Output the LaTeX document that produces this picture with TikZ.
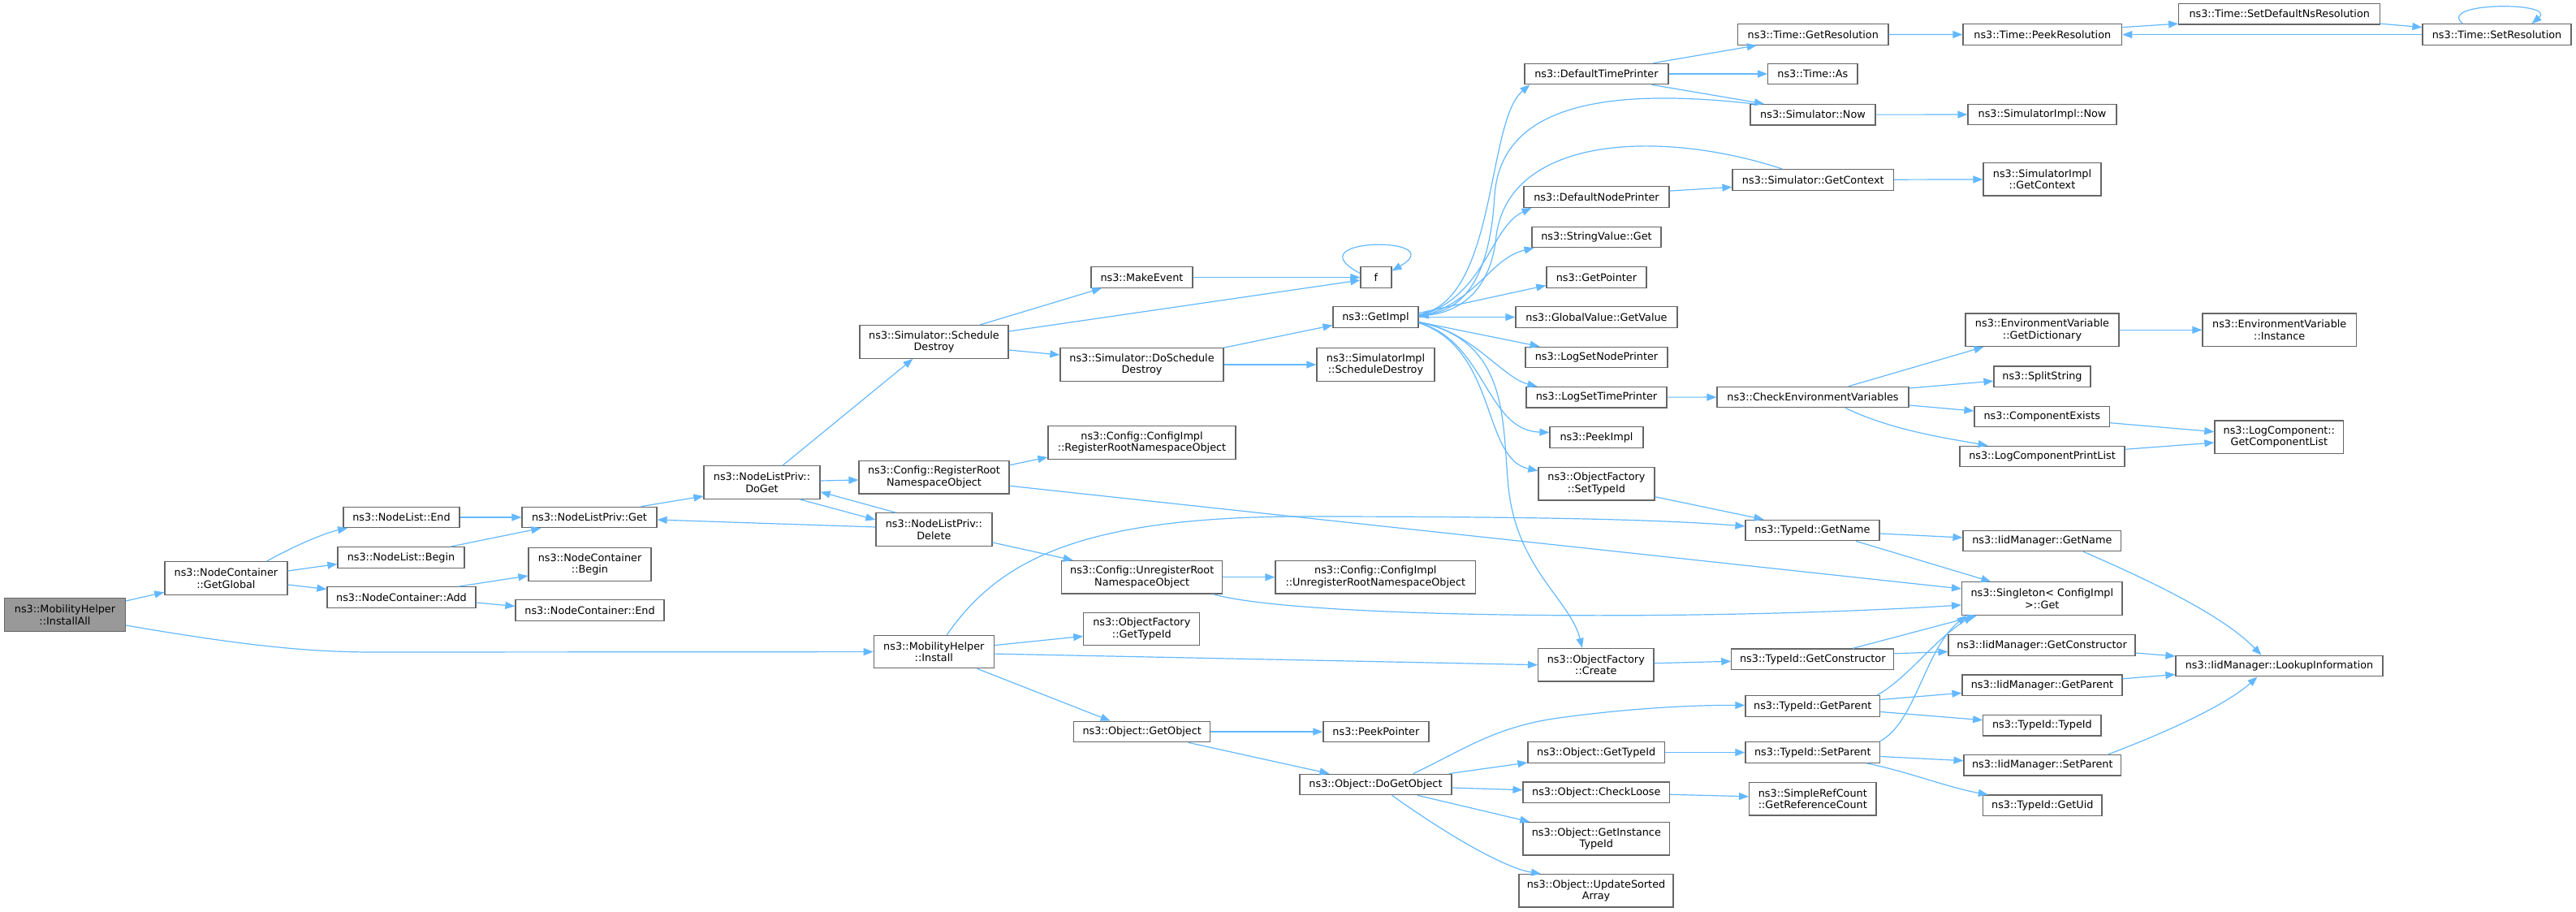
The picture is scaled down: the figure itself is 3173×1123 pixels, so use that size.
\documentclass[tikz,border=0pt]{standalone}
\usepackage{fontspec}
\setmainfont{DejaVu Sans}
\usetikzlibrary{arrows.meta}
\definecolor{edgeblue}{HTML}{63B8FF}
\definecolor{nodeborder}{HTML}{666666}
\definecolor{rootfill}{HTML}{999999}
\begin{document}
\begin{tikzpicture}[x=1pt,y=-1pt,
  nd/.style={draw=nodeborder, fill=white, line width=1.2pt, inner sep=0pt, align=center,
    font=\fontsize{12.8pt}{14.5pt}\selectfont, text=black},
  one/.style={minimum height=25.5pt},
  two/.style={minimum height=40.5pt},
  rootnode/.style={fill=rootfill},
  conn/.style={draw=edgeblue, line width=1.2pt, -{Triangle[length=12pt,width=9pt]}}]
\useasboundingbox (0,0) rectangle (3173,1123);

% column 0-1
\node[nd,two,rootnode,minimum width=149pt] (installall) at (80,757) {ns3::MobilityHelper\\::InstallAll};
\node[nd,two,minimum width=151pt] (getglobal) at (278.4,712) {ns3::NodeContainer\\::GetGlobal};
\node[nd,one,minimum width=143pt] (nlend) at (494.5,637) {ns3::NodeList::End};
\node[nd,one,minimum width=156pt] (nlbegin) at (494,686.5) {ns3::NodeList::Begin};
\node[nd,one,minimum width=183pt] (ncadd) at (494.5,735.5) {ns3::NodeContainer::Add};
\node[nd,one,minimum width=166pt] (nlpget) at (726,637) {ns3::NodeListPriv::Get};
\node[nd,two,minimum width=151pt] (ncbegin) at (726.5,695) {ns3::NodeContainer\\::Begin};
\node[nd,one,minimum width=183pt] (ncend) at (726.5,751.5) {ns3::NodeContainer::End};
\node[nd,two,minimum width=143pt] (doget) at (938.5,594) {ns3::NodeListPriv::\\DoGet};
\node[nd,two,minimum width=183pt] (scheddestroy) at (1150.5,421) {ns3::Simulator::Schedule\\Destroy};
\node[nd,two,minimum width=185pt] (regroot) at (1150.5,587.7) {ns3::Config::RegisterRoot\\NamespaceObject};
\node[nd,two,minimum width=143pt] (nldelete) at (1150.4,652) {ns3::NodeListPriv::\\Delete};
\node[nd,two,minimum width=148pt] (install) at (1150.3,802.6) {ns3::MobilityHelper\\::Install};
\node[nd,one,minimum width=125pt] (makeevent) at (1406.5,341.5) {ns3::MakeEvent};
\node[nd,two,minimum width=201pt] (doscheddestroy) at (1406.5,449) {ns3::Simulator::DoSchedule\\Destroy};
\node[nd,two,minimum width=231pt] (cfgimplreg) at (1406.5,545) {ns3::Config::ConfigImpl\\::RegisterRootNamespaceObject};
\node[nd,two,minimum width=198pt] (unregroot) at (1406.7,710.7) {ns3::Config::UnregisterRoot\\NamespaceObject};
\node[nd,two,minimum width=143pt] (ofgettypeid) at (1406.3,774.4) {ns3::ObjectFactory\\::GetTypeId};
\node[nd,one,minimum width=168pt] (getobject) at (1406.7,901) {ns3::Object::GetObject};
\node[nd,one,minimum width=38pt] (fnode) at (1694.9,341.5) {f};
\node[nd,one,minimum width=105pt] (getimpl) at (1694.5,390.5) {ns3::GetImpl};
\node[nd,two,minimum width=145pt] (simimplsched) at (1694.5,449) {ns3::SimulatorImpl\\::ScheduleDestroy};
\node[nd,two,minimum width=246.5pt] (cfgimplunreg) at (1694.3,710.7) {ns3::Config::ConfigImpl\\::UnregisterRootNamespaceObject};
\node[nd,one,minimum width=130pt] (peekpointer) at (1694.9,901) {ns3::PeekPointer};
\node[nd,one,minimum width=187pt] (dogetobject) at (1694.5,966) {ns3::Object::DoGetObject};
% column ~1966
\node[nd,one,minimum width=177pt] (deftimeprinter) at (1966.4,91) {ns3::DefaultTimePrinter};
\node[nd,one,minimum width=179pt] (defnodeprinter) at (1966.5,242.6) {ns3::DefaultNodePrinter};
\node[nd,one,minimum width=159pt] (stringvalueget) at (1966.5,292) {ns3::StringValue::Get};
\node[nd,one,minimum width=123pt] (getpointer) at (1966.4,341.5) {ns3::GetPointer};
\node[nd,one,minimum width=199pt] (globalvalue) at (1966.5,390.5) {ns3::GlobalValue::GetValue};
\node[nd,one,minimum width=175pt] (logsetnodeprinter) at (1966.5,440) {ns3::LogSetNodePrinter};
\node[nd,one,minimum width=173pt] (logsettimeprinter) at (1966.5,489.2) {ns3::LogSetTimePrinter};
\node[nd,one,minimum width=115pt] (peekimpl) at (1966.5,538.5) {ns3::PeekImpl};
\node[nd,two,minimum width=143pt] (ofsettypeid) at (1966.4,595.7) {ns3::ObjectFactory\\::SetTypeId};
\node[nd,two,minimum width=142.4pt] (ofcreate) at (1965.8,818.7) {ns3::ObjectFactory\\::Create};
\node[nd,one,minimum width=168.4pt] (objgettypeid) at (1966.2,926.5) {ns3::Object::GetTypeId};
\node[nd,one,minimum width=180.6pt] (checkloose) at (1966.3,975.7) {ns3::Object::CheckLoose};
\node[nd,two,minimum width=180.6pt] (getinstancetypeid) at (1966.3,1032.8) {ns3::Object::GetInstance\\TypeId};
\node[nd,two,minimum width=190pt] (updatesortedarray) at (1966,1096.8) {ns3::Object::UpdateSorted\\Array};
% column ~2233
\node[nd,one,minimum width=185.4pt] (timegetres) at (2233.3,42.5) {ns3::Time::GetResolution};
\node[nd,one,minimum width=110.3pt] (timeas) at (2232.9,91) {ns3::Time::As};
\node[nd,one,minimum width=154pt] (simnow) at (2233,141.2) {ns3::Simulator::Now};
\node[nd,one,minimum width=198.6pt] (simgetcontext) at (2233.3,221.4) {ns3::Simulator::GetContext};
\node[nd,one,minimum width=236pt] (checkenv) at (2233,489) {ns3::CheckEnvironmentVariables};
\node[nd,one,minimum width=165pt] (typeidgetname) at (2232.5,653) {ns3::TypeId::GetName};
\node[nd,one,minimum width=200pt] (typeidgetconstructor) at (2232.8,811.8) {ns3::TypeId::GetConstructor};
\node[nd,one,minimum width=165.7pt] (typeidgetparent) at (2232.8,869.5) {ns3::TypeId::GetParent};
\node[nd,one,minimum width=165.7pt] (typeidsetparent) at (2232.8,926.5) {ns3::TypeId::SetParent};
\node[nd,two,minimum width=156.4pt] (simplerefcount) at (2232.8,983.8) {ns3::SimpleRefCount\\::GetReferenceCount};
% column ~2515
\node[nd,one,minimum width=195.7pt] (timepeekres) at (2515.8,42.6) {ns3::Time::PeekResolution};
\node[nd,one,minimum width=183pt] (simimplnow) at (2515.5,141) {ns3::SimulatorImpl::Now};
\node[nd,two,minimum width=145pt] (simimplgetcontext) at (2515.5,220.8) {ns3::SimulatorImpl\\::GetContext};
\node[nd,two,minimum width=189pt] (getdictionary) at (2515.5,406.3) {ns3::EnvironmentVariable\\::GetDictionary};
\node[nd,one,minimum width=119pt] (splitstring) at (2515.5,463.7) {ns3::SplitString};
\node[nd,one,minimum width=166.6pt] (componentexists) at (2515.3,513) {ns3::ComponentExists};
\node[nd,one,minimum width=203pt] (logcompprintlist) at (2515.5,562) {ns3::LogComponentPrintList};
\node[nd,one,minimum width=194.6pt] (iidgetname) at (2515.3,666) {ns3::IidManager::GetName};
\node[nd,two,minimum width=197.5pt] (singleton) at (2515.3,737) {ns3::Singleton< ConfigImpl\\ >::Get};
\node[nd,one,minimum width=230pt] (iidgetconstructor) at (2515,794.5) {ns3::IidManager::GetConstructor};
\node[nd,one,minimum width=197pt] (iidgetparent) at (2515.5,843.8) {ns3::IidManager::GetParent};
\node[nd,one,minimum width=145.3pt] (typeidtypeid) at (2515.4,893.2) {ns3::TypeId::TypeId};
\node[nd,one,minimum width=193.6pt] (iidsetparent) at (2515.8,942.2) {ns3::IidManager::SetParent};
\node[nd,one,minimum width=146.3pt] (typeidgetuid) at (2515.8,991.8) {ns3::TypeId::GetUid};
% column ~2807
\node[nd,one,minimum width=248pt] (setdefaultns) at (2807.7,17.2) {ns3::Time::SetDefaultNsResolution};
\node[nd,two,minimum width=189.5pt] (envinstance) at (2807.7,406.3) {ns3::EnvironmentVariable\\::Instance};
\node[nd,two,minimum width=158.7pt] (logcompgetlist) at (2807.3,538.3) {ns3::LogComponent::\\GetComponentList};
\node[nd,one,minimum width=255pt] (iidlookup) at (2807.5,820) {ns3::IidManager::LookupInformation};
% column ~3075
\node[nd,one,minimum width=183pt] (timesetres) at (3075.5,42.6) {ns3::Time::SetResolution};

% ---------------- connectors ----------------
\draw[conn] (installall) -- (getglobal);
\draw[conn] ([yshift=-13pt]installall.east) .. controls (300,795) and (380,803) .. (460,803) -- (install.west);
\draw[conn] ([xshift=50pt]getglobal.north) .. controls (370,668) and (405,655) .. (nlend);
\draw[conn] ([yshift=9pt]getglobal.east) -- ([yshift=-8pt]nlbegin.west);
\draw[conn] ([yshift=-8pt]getglobal.east) -- ([yshift=10pt]ncadd.west);
\draw[conn] (nlend) -- (nlpget);
\draw[conn] ([xshift=-18pt]nlbegin.north east) -- ([xshift=24pt]nlpget.south west);
\draw[conn] ([xshift=-22pt]ncadd.north east) -- ([yshift=-14pt]ncbegin.west);
\draw[conn] ([yshift=-6.5pt]ncadd.east) -- ([yshift=5pt]ncend.west);
\draw[conn] ([xshift=-20pt]nlpget.north east) -- ([yshift=-17pt]doget.west);
\draw[conn] ([yshift=3pt]nldelete.west) -- ([yshift=-3pt]nlpget.east);
\draw[conn] ([xshift=25.5pt]doget.north) -- ([xshift=-26pt]scheddestroy.south);
\draw[conn] ([yshift=2pt]doget.east) -- ([yshift=-3.3pt]regroot.west);
\draw[conn] ([xshift=46.5pt]doget.south) -- ([yshift=12pt]nldelete.west);
\draw[conn] ([xshift=-47pt]nldelete.north) -- ([yshift=-11.7pt]doget.east);
\draw[conn] ([yshift=-16pt]nldelete.east) -- ([xshift=-85pt]unregroot.north);
\draw[conn] ([xshift=56pt]scheddestroy.north) -- ([xshift=-49.5pt]makeevent.south);
\draw[conn] ([yshift=13pt]scheddestroy.east) -- ([yshift=-3.5pt]fnode.west);
\draw[conn] ([yshift=-10pt]scheddestroy.east) -- ([yshift=12pt]doscheddestroy.west);
\draw[conn] (makeevent) -- (fnode);
\draw[conn] ([yshift=5pt]fnode.west) .. controls (1590,292) and (1790,290) .. ([yshift=8pt]fnode.east);
\draw[conn] (doscheddestroy.north east) -- ([yshift=-10pt]getimpl.west);
\draw[conn] (doscheddestroy) -- (simimplsched);
\draw[conn] ([yshift=15pt]regroot.east) -- ([yshift=-18pt]cfgimplreg.west);
\draw[conn] ([yshift=-10.6pt]regroot.east) -- ([yshift=12pt]singleton.west);
\draw[conn] (unregroot) -- (cfgimplunreg);
\draw[conn] ([xshift=87pt]unregroot.south) .. controls (1600,762) and (2100,765) .. ([yshift=-8pt]singleton.west);
\draw[conn] ([xshift=16pt]install.north) .. controls (1230,690) and (1330,637) .. (1600,636) .. controls (1900,636) and (2050,640) .. ([yshift=5pt]typeidgetname.west);
\draw[conn] ([yshift=8pt]install.east) -- ([yshift=-9pt]ofgettypeid.west);
\draw[conn] ([yshift=-2.5pt]install.east) -- (ofcreate.west);
\draw[conn] ([xshift=53.5pt]install.south) -- ([xshift=-39pt]getobject.north);
% GetImpl fan
\draw[conn] ([yshift=3pt]getimpl.east) .. controls (1845,370) and (1830,150) .. ([xshift=-82pt]deftimeprinter.south);
\draw[conn] ([xshift=-73pt]simnow.north) .. controls (2000,110) and (1850,120) .. (1841,240) .. controls (1836,330) and (1810,380) .. ([yshift=2pt]getimpl.east);
\draw[conn] ([yshift=1pt]getimpl.east) .. controls (1830,365) and (1835,280) .. ([xshift=-80pt]defnodeprinter.south);
\draw[conn] ([xshift=-38pt]simgetcontext.north) .. controls (2050,160) and (1860,165) .. (1843,290) .. controls (1838,345) and (1810,382) .. ([yshift=1pt]getimpl.east);
\draw[conn] (getimpl.east) .. controls (1820,372) and (1835,318) .. ([xshift=-77pt]stringvalueget.south);
\draw[conn] ([yshift=5pt]getimpl.east) -- ([yshift=-10pt]getpointer.west);
\draw[conn] (getimpl) -- (globalvalue);
\draw[conn] ([yshift=-6pt]getimpl.east) -- ([xshift=-70pt]logsetnodeprinter.north);
\draw[conn] ([yshift=-7pt]getimpl.east) .. controls (1810,405) and (1850,465) .. ([xshift=-73pt]logsettimeprinter.north);
\draw[conn] ([yshift=-7pt]getimpl.east) .. controls (1830,420) and (1830,530) .. ([yshift=6pt]peekimpl.west);
\draw[conn] ([yshift=-7pt]getimpl.east) .. controls (1845,430) and (1825,565) .. ([yshift=16pt]ofsettypeid.west);
\draw[conn] ([yshift=-6pt]getimpl.east) .. controls (1860,420) and (1850,520) .. (1858,600) .. controls (1868,700) and (1935,740) .. ([xshift=-17pt]ofcreate.north);
% time
\draw[conn] ([xshift=70pt]deftimeprinter.north) -- ([xshift=-69.5pt]timegetres.south);
\draw[conn] (deftimeprinter) -- (timeas);
\draw[conn] ([xshift=68pt]deftimeprinter.south) -- ([xshift=-60pt]simnow.north);
\draw[conn] (timegetres) -- (timepeekres);
\draw[conn] ([yshift=9pt]timepeekres.east) -- ([yshift=-12pt]setdefaultns.west);
\draw[conn] ([yshift=-12pt]setdefaultns.east) -- ([yshift=9pt]timesetres.west);
\draw[conn] (timesetres) -- (timepeekres);
\draw[conn] ([xshift=-42pt]timesetres.north) .. controls (3000,2) and (3150,2) .. ([xshift=43pt]timesetres.north);
\draw[conn] (simnow) -- (simimplnow);
\draw[conn] ([yshift=7.5pt]defnodeprinter.east) -- ([yshift=-9pt]simgetcontext.west);
\draw[conn] (simgetcontext) -- (simimplgetcontext);
% log
\draw[conn] (logsettimeprinter) -- (checkenv);
\draw[conn] ([xshift=44pt]checkenv.north) -- ([xshift=-72pt]getdictionary.south);
\draw[conn] ([yshift=11pt]checkenv.east) -- ([yshift=-5.5pt]splitstring.west);
\draw[conn] ([yshift=-10pt]checkenv.east) -- ([yshift=7pt]componentexists.west);
\draw[conn] ([xshift=40pt]checkenv.south) .. controls (2330,530) and (2400,540) .. ([xshift=-67pt]logcompprintlist.north);
\draw[conn] (getdictionary) -- (envinstance);
\draw[conn] ([yshift=-7.7pt]componentexists.east) -- ([yshift=6.6pt]logcompgetlist.west);
\draw[conn] ([yshift=8.7pt]logcompprintlist.east) -- ([yshift=-6.7pt]logcompgetlist.west);
% typeid
\draw[conn] ([yshift=-16pt]ofsettypeid.east) -- ([xshift=-60pt]typeidgetname.north);
\draw[conn] ([yshift=-4pt]typeidgetname.east) -- ([yshift=4pt]iidgetname.west);
\draw[conn] ([xshift=53.5pt]typeidgetname.south) -- ([xshift=-63pt]singleton.north);
\draw[conn] ([xshift=51pt]iidgetname.south) .. controls (2660,720) and (2740,760) .. ([xshift=-22pt]iidlookup.north);
\draw[conn] ([yshift=2pt]ofcreate.east) -- ([yshift=-2.5pt]typeidgetconstructor.west);
\draw[conn] ([xshift=49pt]typeidgetconstructor.north) -- ([xshift=-80pt]singleton.south);
\draw[conn] ([yshift=7pt]typeidgetconstructor.east) -- ([yshift=-8pt]iidgetconstructor.west);
\draw[conn] ([yshift=-9.5pt]iidgetconstructor.east) -- ([yshift=12pt]iidlookup.west);
\draw[conn] ([yshift=8pt]iidgetparent.east) -- ([yshift=-10.5pt]iidlookup.west);
\draw[conn] ([xshift=81pt]iidsetparent.north) .. controls (2660,905) and (2740,870) .. ([xshift=-27pt]iidlookup.south);
\draw[conn] ([xshift=79pt]typeidgetparent.north) .. controls (2350,835) and (2380,790) .. ([xshift=-85pt]singleton.south);
\draw[conn] ([yshift=8pt]typeidgetparent.east) -- ([yshift=-9.5pt]iidgetparent.west);
\draw[conn] ([yshift=-7pt]typeidgetparent.east) -- ([yshift=6.5pt]typeidtypeid.west);
\draw[conn] ([xshift=82pt]typeidsetparent.north) .. controls (2360,890) and (2370,800) .. ([xshift=-93pt]singleton.south);
\draw[conn] ([yshift=-5pt]typeidsetparent.east) -- ([yshift=5.5pt]iidsetparent.west);
\draw[conn] ([xshift=66pt]typeidsetparent.south) .. controls (2350,950) and (2400,970) .. ([xshift=-67pt]typeidgetuid.north);
% object
\draw[conn] (getobject) -- (peekpointer);
\draw[conn] ([xshift=57pt]getobject.south) -- ([xshift=-57pt]dogetobject.north);
\draw[conn] ([xshift=46pt]dogetobject.north) .. controls (1800,925) and (1840,895) .. (1920,884) .. controls (2000,873) and (2080,868) .. ([yshift=1pt]typeidgetparent.west);
\draw[conn] ([xshift=-4pt]dogetobject.north east) -- ([yshift=-12.5pt]objgettypeid.west);
\draw[conn] ([yshift=-4pt]dogetobject.east) -- ([yshift=3pt]checkloose.west);
\draw[conn] ([xshift=51.5pt]dogetobject.south) -- ([xshift=-82pt]getinstancetypeid.north);
\draw[conn] ([xshift=20pt]dogetobject.south) .. controls (1800,1040) and (1860,1070) .. ([xshift=-68pt]updatesortedarray.north);
\draw[conn] (objgettypeid) -- (typeidsetparent);
\draw[conn] ([yshift=-2.6pt]checkloose.east) -- ([yshift=3pt]simplerefcount.west);
\end{tikzpicture}
\end{document}
